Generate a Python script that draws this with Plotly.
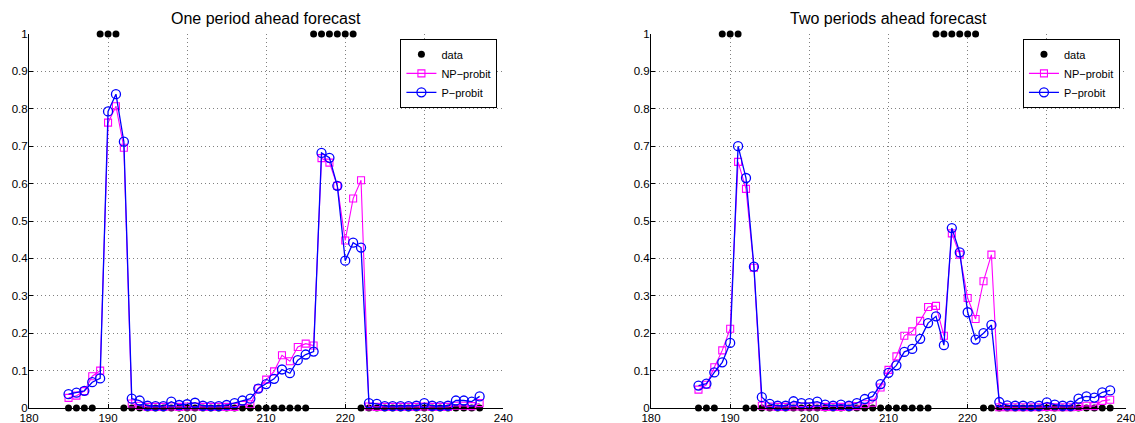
import plotly.graph_objects as go

# ---------------- data ----------------
# Left panel: one period ahead forecast
t1 = list(range(185, 238))
data1 = [0, 0, 0, 0, 1, 1, 1] + [0] * 24 + [1] * 6 + [0] * 16
np1 = [0.027, 0.033, 0.045, 0.085, 0.100, 0.763, 0.807, 0.696,
       0.012, 0.006, 0.003, 0.003, 0.003, 0.004, 0.003, 0.004, 0.004, 0.003,
       0.003, 0.003, 0.003, 0.003, 0.008, 0.010,
       0.052, 0.076, 0.098, 0.141, 0.125, 0.163, 0.172, 0.167,
       0.668, 0.656, 0.594, 0.448, 0.560, 0.609,
       0.004, 0.003, 0.003, 0.003, 0.003, 0.003, 0.003, 0.004, 0.003, 0.003,
       0.003, 0.006, 0.006, 0.005, 0.013]
p1 = [0.037, 0.041, 0.046, 0.069, 0.079, 0.793, 0.839, 0.712,
      0.025, 0.020, 0.006, 0.005, 0.005, 0.017, 0.008, 0.010, 0.014, 0.006,
      0.005, 0.005, 0.008, 0.013, 0.020, 0.025,
      0.052, 0.064, 0.078, 0.103, 0.093, 0.128, 0.143, 0.151,
      0.682, 0.669, 0.594, 0.394, 0.442, 0.429,
      0.013, 0.011, 0.005, 0.005, 0.005, 0.005, 0.006, 0.013, 0.006, 0.005,
      0.006, 0.020, 0.020, 0.017, 0.031]

# Right panel: two periods ahead forecast
t2 = list(range(186, 239))
data2 = [0, 0, 0, 1, 1, 1] + [0] * 24 + [1] * 6 + [0] * 17
np2 = [0.049, 0.062, 0.109, 0.154, 0.212, 0.658, 0.586, 0.375,
       0.006, 0.004, 0.003, 0.003, 0.004, 0.004, 0.004, 0.004, 0.003, 0.003,
       0.003, 0.004, 0.005, 0.010, 0.014,
       0.055, 0.102, 0.138, 0.193, 0.205, 0.233, 0.270, 0.273, 0.193,
       0.467, 0.410, 0.294, 0.238, 0.339, 0.410,
       0.002, 0.002, 0.002, 0.002, 0.002, 0.002, 0.003, 0.002, 0.002, 0.002,
       0.003, 0.006, 0.005, 0.019, 0.022]
p2 = [0.060, 0.065, 0.095, 0.122, 0.174, 0.700, 0.615, 0.378,
      0.029, 0.011, 0.006, 0.006, 0.018, 0.013, 0.013, 0.017, 0.009, 0.006,
      0.009, 0.006, 0.013, 0.024, 0.031,
      0.064, 0.094, 0.114, 0.150, 0.158, 0.185, 0.227, 0.245, 0.168,
      0.481, 0.416, 0.256, 0.183, 0.200, 0.222,
      0.016, 0.007, 0.006, 0.006, 0.005, 0.006, 0.015, 0.009, 0.006, 0.006,
      0.025, 0.031, 0.028, 0.042, 0.047]

titles = ["One period ahead forecast", "Two periods ahead forecast"]
x_ticks = [180, 190, 200, 210, 220, 230, 240]
y_ticks = [0, 0.1, 0.2, 0.3, 0.4, 0.5, 0.6, 0.7, 0.8, 0.9, 1]

FONT = "Liberation Sans, Arial, Helvetica, sans-serif"
MAGENTA = "#FF00FF"
BLUE = "#0000FF"

fig = go.Figure()

panels = [(t1, data1, np1, p1, "x", "y", "legend"),
          (t2, data2, np2, p2, "x2", "y2", "legend2")]

for t, d, npv, pv, xa, ya, lg in panels:
    fig.add_trace(go.Scatter(
        x=t, y=d, mode="markers", name="data", xaxis=xa, yaxis=ya, legend=lg,
        marker=dict(color="black", size=7, symbol="circle"), cliponaxis=False))
    fig.add_trace(go.Scatter(
        x=t, y=npv, mode="lines+markers", name="NP\u2212probit", xaxis=xa, yaxis=ya,
        legend=lg, line=dict(color=MAGENTA, width=1.1),
        marker=dict(symbol="square-open", size=7, color=MAGENTA, line=dict(width=1.1)),
        cliponaxis=False))
    fig.add_trace(go.Scatter(
        x=t, y=pv, mode="lines+markers", name="P\u2212probit", xaxis=xa, yaxis=ya,
        legend=lg, line=dict(color=BLUE, width=1.3),
        marker=dict(symbol="circle-open", size=9, color=BLUE, line=dict(width=1.3)),
        cliponaxis=False))

axis_common = dict(
    showline=True, linecolor="black", linewidth=1, mirror=False,
    ticks="inside", ticklen=4, tickcolor="black", tickwidth=1,
    showgrid=True, gridcolor="#808080", griddash="1px,3px", gridwidth=1,
    zeroline=False, automargin=False, ticklabeloverflow="allow",
)
x_font = dict(family=FONT, size=11.5, color="black")
y_font = dict(family=FONT, size=11.5, color="black")

leg_common = dict(yanchor="top", xanchor="right", bgcolor="white",
                  bordercolor="black", borderwidth=1,
                  font=dict(family=FONT, size=11, color="black"),
                  tracegroupgap=0, itemwidth=30)

fig.update_layout(
    width=1135, height=423,
    margin=dict(l=29, r=9, t=34, b=15, autoexpand=False),
    paper_bgcolor="white", plot_bgcolor="white",
    font=dict(family=FONT, size=12, color="black"),
    xaxis=dict(domain=[0, 0.4324], range=[180, 240], tickvals=x_ticks,
               anchor="y", ticklabelstandoff=-1, tickfont=x_font, **axis_common),
    yaxis=dict(domain=[0, 1], range=[0, 1], tickvals=y_ticks, anchor="x",
               ticklabelstandoff=-2, tickfont=y_font, **axis_common),
    xaxis2=dict(domain=[0.567, 1.0], range=[180, 240], tickvals=x_ticks,
                anchor="y2", ticklabelstandoff=-1, tickfont=x_font, **axis_common),
    yaxis2=dict(domain=[0, 1], range=[0, 1], tickvals=y_ticks, anchor="x2",
                ticklabelstandoff=-2, tickfont=y_font, **axis_common),
    legend=dict(x=0.427, y=0.987, **leg_common),
    legend2=dict(x=0.9945, y=0.987, **leg_common),
    showlegend=True,
)

for i, xa in enumerate(["x", "x2"]):
    fig.add_annotation(text=titles[i], xref=f"{xa} domain", yref="paper", x=0.5, y=1.0,
                       yshift=5, xanchor="center", yanchor="bottom", showarrow=False,
                       font=dict(family=FONT, size=16, color="black"))

fig.write_html(
    "out.html",
    config={"displayModeBar": False, "staticPlot": True},
    post_script="document.body.style.margin='0';document.body.style.padding='0';"
                "document.body.style.overflow='hidden';",
)
